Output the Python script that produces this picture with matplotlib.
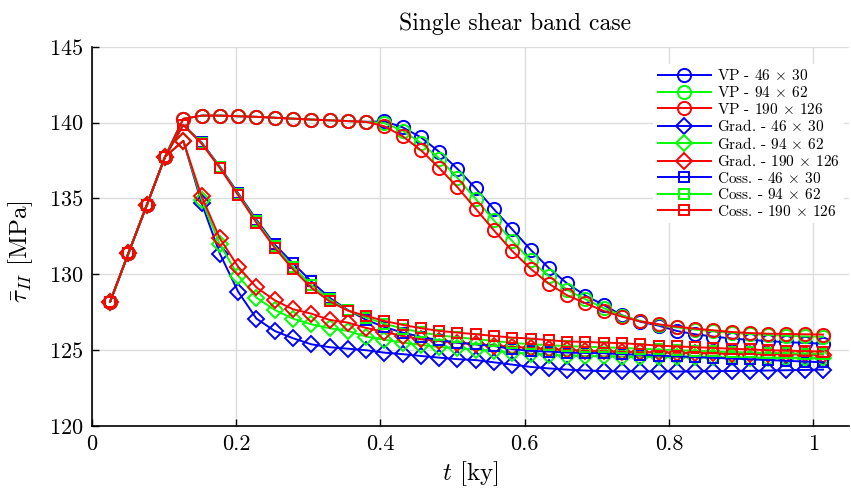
import matplotlib
matplotlib.use("Agg")
import matplotlib.pyplot as plt

# time steps [ky]
t = [0.0253, 0.0507, 0.0760, 0.1014, 0.1267, 0.1520, 0.1774, 0.2027, 0.2281, 0.2534,
     0.2787, 0.3041, 0.3294, 0.3548, 0.3801, 0.4054, 0.4308, 0.4561, 0.4815, 0.5068,
     0.5321, 0.5575, 0.5828, 0.6082, 0.6335, 0.6588, 0.6842, 0.7095, 0.7349, 0.7602,
     0.7855, 0.8109, 0.8362, 0.8616, 0.8869, 0.9122, 0.9376, 0.9629, 0.9883, 1.0136]

# shared loading branch (first four steps)
start = [128.2, 131.4, 134.55, 137.75]

vp_46 = start + [140.25, 140.46, 140.46, 140.42, 140.38, 140.32, 140.26, 140.2, 140.15, 140.1, 140.05,
                 140.09, 139.69, 139.03, 138.07, 136.95, 135.66, 134.28, 132.96, 131.62, 130.41,
                 129.4, 128.6, 127.98, 127.3, 126.88, 126.62, 126.27, 126.05, 125.9, 125.77,
                 125.68, 125.6, 125.53, 125.48, 125.43]
vp_94 = start + [140.25, 140.46, 140.46, 140.42, 140.38, 140.32, 140.26, 140.2, 140.15, 140.1, 140.05,
                 139.97, 139.47, 138.66, 137.63, 136.36, 134.97, 133.55, 132.19, 130.92, 129.89,
                 128.98, 128.36, 127.78, 127.28, 126.93, 126.68, 126.5, 126.36, 126.24, 126.14,
                 126.06, 126.0, 125.95, 125.91, 125.88]
vp_190 = start + [140.25, 140.46, 140.46, 140.42, 140.38, 140.32, 140.26, 140.2, 140.15, 140.1, 140.05,
                  139.76, 139.1, 138.18, 137.01, 135.74, 134.32, 132.89, 131.53, 130.37, 129.38,
                  128.62, 128.1, 127.59, 127.21, 126.9, 126.71, 126.55, 126.42, 126.31, 126.2,
                  126.13, 126.09, 126.07, 126.05, 126.03]

grad_46 = start + [138.8, 134.71, 131.36, 128.86, 127.08, 126.27, 125.79, 125.39, 125.2, 125.1, 125.0,
                   124.84, 124.74, 124.62, 124.51, 124.41, 124.35, 124.2, 124.05, 123.9, 123.8,
                   123.72, 123.66, 123.62, 123.6, 123.6, 123.6, 123.6, 123.6, 123.62, 123.63,
                   123.64, 123.66, 123.68, 123.7, 123.72]
grad_94 = start + [138.8, 134.93, 131.97, 129.92, 128.46, 127.66, 127.08, 126.71, 126.45, 126.27, 125.9,
                   125.69, 125.5, 125.35, 125.21, 125.13, 125.04, 124.95, 124.84, 124.78, 124.7,
                   124.65, 124.62, 124.6, 124.58, 124.56, 124.55, 124.54, 124.53, 124.52, 124.52,
                   124.51, 124.51, 124.5, 124.5, 124.5]
grad_190 = start + [138.8, 135.15, 132.37, 130.5, 129.14, 128.29, 127.7, 127.41, 127.0, 126.82, 126.47,
                    126.2, 125.94, 125.72, 125.61, 125.5, 125.39, 125.3, 125.22, 125.15, 125.08,
                    125.02, 124.97, 124.93, 124.9, 124.87, 124.85, 124.83, 124.81, 124.79, 124.77,
                    124.75, 124.74, 124.73, 124.72, 124.71]

coss_46 = start + [139.85, 138.7, 137.1, 135.35, 133.6, 131.97, 130.73, 129.54, 128.46, 127.65, 127.0,
                   126.53, 126.16, 125.88, 125.66, 125.5, 125.39, 125.28, 125.07, 124.95, 124.91,
                   124.84, 124.82, 124.8, 124.74, 124.7, 124.65, 124.6, 124.55, 124.5, 124.45,
                   124.4, 124.35, 124.3, 124.25, 124.2]
coss_94 = start + [139.85, 138.66, 137.05, 135.28, 133.5, 131.85, 130.5, 129.3, 128.35, 127.62, 127.15,
                   126.75, 126.42, 126.18, 125.98, 125.85, 125.73, 125.62, 125.48, 125.4, 125.33,
                   125.27, 125.23, 125.19, 125.15, 125.1, 125.05, 125.0, 124.96, 124.92, 124.88,
                   124.85, 124.82, 124.8, 124.78, 124.76]
coss_190 = start + [139.85, 138.62, 137.01, 135.22, 133.4, 131.75, 130.33, 129.12, 128.22, 127.61, 127.26,
                    126.93, 126.67, 126.45, 126.27, 126.16, 126.05, 125.94, 125.83, 125.77, 125.66,
                    125.57, 125.55, 125.5, 125.46, 125.39, 125.3, 125.25, 125.2, 125.15, 125.1,
                    125.05, 125.0, 124.97, 124.94, 124.91]

series = [
    ("VP - 46 $\\times$ 30", vp_46, "b", "o"),
    ("VP - 94 $\\times$ 62", vp_94, "lime", "o"),
    ("VP - 190 $\\times$ 126", vp_190, "r", "o"),
    ("Grad. - 46 $\\times$ 30", grad_46, "b", "D"),
    ("Grad. - 94 $\\times$ 62", grad_94, "lime", "D"),
    ("Grad. - 190 $\\times$ 126", grad_190, "r", "D"),
    ("Coss. - 46 $\\times$ 30", coss_46, "b", "s"),
    ("Coss. - 94 $\\times$ 62", coss_94, "lime", "s"),
    ("Coss. - 190 $\\times$ 126", coss_190, "r", "s"),
]

plt.rcParams["font.family"] = "cmr10"
plt.rcParams["mathtext.fontset"] = "cm"
plt.rcParams["axes.formatter.use_mathtext"] = True

fig = plt.figure(figsize=(8.51, 4.92), dpi=100)
ax = fig.add_axes([0.108, 0.134, 0.89, 0.771])

for label, vals, col, mk in series:
    ms = 9.5 if mk == "o" else (8.5 if mk == "D" else 7.5)
    ax.plot(t, vals, color=col, marker=mk, markersize=ms, markerfacecolor="none",
            markeredgewidth=1.4, linewidth=1.4, label=label)

ax.set_xlim(0, 1.05)
ax.set_ylim(120, 145)
ax.set_xticks([0, 0.2, 0.4, 0.6, 0.8, 1.0])
ax.set_xticklabels(["0", "0.2", "0.4", "0.6", "0.8", "1"])
ax.set_yticks([120, 125, 130, 135, 140, 145])
ax.grid(True, color="#dcdcdc", linewidth=1.0)
ax.set_axisbelow(True)
ax.tick_params(direction="in", length=5, width=1, labelsize=16, pad=6)
for side in ["top", "right"]:
    ax.spines[side].set_visible(False)
for side in ["left", "bottom"]:
    ax.spines[side].set_linewidth(1.2)

ax.set_title("Single shear band case", fontsize=17, pad=12, x=0.559)
ax.set_xlabel("$t$ [ky]", fontsize=18, labelpad=4)
ax.set_ylabel("$\\bar{\\tau}_{II}$ [MPa]", fontsize=18, labelpad=6)
ax.yaxis.set_label_coords(-0.075, 0.46)

leg = ax.legend(loc="upper right", bbox_to_anchor=(1.003, 0.975), fontsize=11,
                handlelength=3.5, handletextpad=0.35, labelspacing=0.1,
                frameon=True, fancybox=False, borderpad=0.3)
leg.get_frame().set_edgecolor("none")
leg.get_frame().set_facecolor("white")
leg.get_frame().set_alpha(1)

fig.savefig("out.png", dpi=100)
